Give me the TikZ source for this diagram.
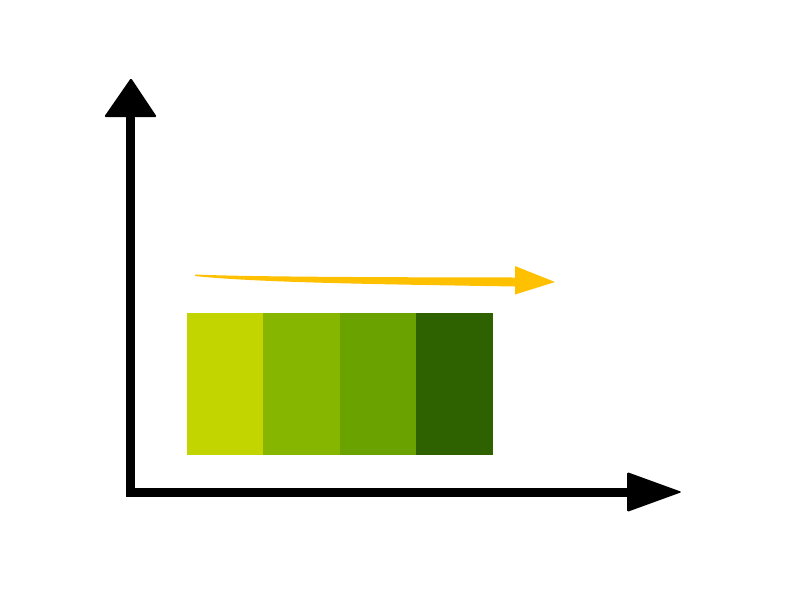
\documentclass[tikz,border=0pt]{standalone}
\begin{document}
\begin{tikzpicture}[x=1pt,y=-1pt]
\definecolor{c1}{HTML}{C2D500}
\definecolor{c2}{HTML}{86B600}
\definecolor{c3}{HTML}{6AA300}
\definecolor{c4}{HTML}{2E6100}
\definecolor{orng}{HTML}{FFC000}
\tikzset{block/.style={draw=none,inner sep=0pt,minimum width=76.5pt,minimum height=142pt},
axisline/.style={line width=9pt},
axhead/.style={fill=black,rounded corners=1.5pt}}
\useasboundingbox (0,0) rectangle (800,600);
% blocks
\node[block,fill=c1,anchor=north west] (b1) at (187,313) {};
\node[block,fill=c2,anchor=north west] (b2) at (263,313) {};
\node[block,fill=c3,anchor=north west] (b3) at (339.5,313) {};
\node[block,fill=c4,anchor=north west] (b4) at (416,313) {};
% axes
\coordinate (o) at (130.5,492);
\coordinate (ytop) at (130.5,112);
\coordinate (xend) at (630,492);
\draw[axisline,line cap=butt] (130.5,496.5) -- (ytop);
\draw[axisline,line cap=butt] (126,492) -- (xend);
\fill[axhead] (131,78) -- (157,117) -- (104,117) -- cycle;
\fill[axhead] (682,492) -- (627,512) -- (627,472) -- cycle;
% orange arrow
\fill[orng] (195,274.5) .. controls (250,277) and (400,277.3) .. (515,277.5)
  -- (515,266) -- (555,282) -- (515,294.5) -- (515,286.5)
  .. controls (400,284.5) and (260,283) .. (195,276) -- cycle;
\end{tikzpicture}
\end{document}
